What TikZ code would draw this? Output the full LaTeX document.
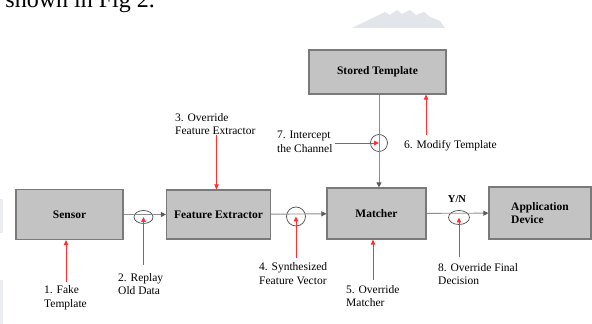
\documentclass[tikz,border=0pt]{standalone}
\usepackage{fontspec}
\setmainfont{Liberation Serif}
\usetikzlibrary{arrows.meta,shapes.geometric}
\definecolor{boxgray}{HTML}{C3C3C3}
\definecolor{edgegray}{HTML}{7A7A7A}
\definecolor{flowgray}{HTML}{8E8E8E}
\definecolor{tipgray}{HTML}{5A5A5A}
\definecolor{attackred}{HTML}{FF3030}
\definecolor{pagegray}{HTML}{E2E6EB}

\begin{document}
\begin{tikzpicture}[x=1pt, y=1pt,
		box/.style={draw=edgegray, line width=1.2pt, rectangle, fill=boxgray, align=left, inner sep=0pt, font=\fontsize{11.5}{13}\selectfont\bfseries},
		flow/.style={draw=flowgray, line width=0.9pt, -{Triangle[length=5pt, width=5pt, color=tipgray]}},
		attack/.style={draw=attackred, line width=0.9pt, -{Triangle[length=5pt, width=4.5pt]}},
		tap/.style={draw=black!70, line width=0.7pt, ellipse, inner sep=0pt},
		note/.style={align=left, anchor=west, inner sep=0pt, font=\fontsize{11.5}{13.5}\selectfont},
	]
		\clip (0,0) rectangle (592,324);
		\fill[white] (0,0) rectangle (592,324);

		\node[anchor=base east, inner sep=0pt, font=\fontsize{24}{28}\selectfont] (pagetext) at (155,316.5) {shown in Fig 2.};
		\fill[pagegray] (352,296) -- (385,312) -- (390,309) -- (397,314) -- (402,310) -- (410,314) -- (416,309) -- (424,312) -- (430,307) -- (440,303) -- (445,296) -- cycle;
		\fill[pagegray!70] (0,91) rectangle (3,125);
		\fill[pagegray!70] (0,0) rectangle (3,44);

		\node[box, minimum width=107pt, minimum height=50pt] (sensor) at (69.5,109.5) {Sensor};
		\node[box, minimum width=104pt, minimum height=49pt] (fe) at (218.5,109.5) {Feature Extractor};
		\node[box, minimum width=99pt, minimum height=51pt] (matcher) at (376.5,110.5) {Matcher};
		\node[box, minimum width=102pt, minimum height=52pt] (app) at (540,111) {Application\\Device};
		\node[box, minimum width=137pt, minimum height=44pt] (stored) at (377.5,252) {Stored Template};

		\node[tap, minimum width=19pt, minimum height=13pt] (c2) at (143.5,107) {};
		\node[tap, circle, minimum size=19pt] (c4) at (296,107.5) {};
		\node[tap, circle, minimum size=17pt] (c7) at (379,181) {};
		\node[tap, minimum width=21pt, minimum height=14pt] (c8) at (459,106.5) {};

		\draw[flow] (sensor) -- (fe);
		\draw[flow] (fe) -- (matcher);
		\draw[flow] (matcher) -- (app);
		\draw[flow] (stored.south -| c7) -- (matcher.north -| c7);

		\node[inner sep=0pt, font=\fontsize{10.5}{12}\selectfont\bfseries] (yn) at (457,125) {Y/N};

		\coordinate (a1) at (66,42);
		\coordinate (a2) at (143.5,59);
		\coordinate (a3) at (216.5,189);
		\coordinate (a4) at (296,66);
		\coordinate (a5) at (373,44);
		\coordinate (a6) at (426,189);
		\coordinate (a7) at (335,181);
		\coordinate (a8) at (459,67);

		\draw[attack] (a1) -- (a1 |- sensor.south);
		\draw[attack] (a2) -- (c2.center);
		\draw[attack] (a3) -- (a3 |- fe.north);
		\draw[attack] (a4) -- (c4.center);
		\draw[attack] (a5) -- (a5 |- matcher.south);
		\draw[attack] (a6) -- (a6 |- stored.south);
		\draw[attack] (a7) -- (c7.center);
		\draw[attack] (a8) -- (c8.center);

		\node[note] (l1) at (44,26.5) {1. Fake\\Template};
		\node[note] (l2) at (118,40) {2. Replay\\Old Data};
		\node[note] (l3) at (175,200) {3. Override\\Feature Extractor};
		\node[note] (l4) at (259,50.5) {4. Synthesized\\Feature Vector};
		\node[note] (l5) at (346,28) {5. Override\\Matcher};
		\node[note] (l6) at (404,178) {6. Modify Template};
		\node[note] (l7) at (277,182) {7. Intercept\\the Channel};
		\node[note] (l8) at (438,50) {8. Override Final\\Decision};
	\end{tikzpicture}
\end{document}
